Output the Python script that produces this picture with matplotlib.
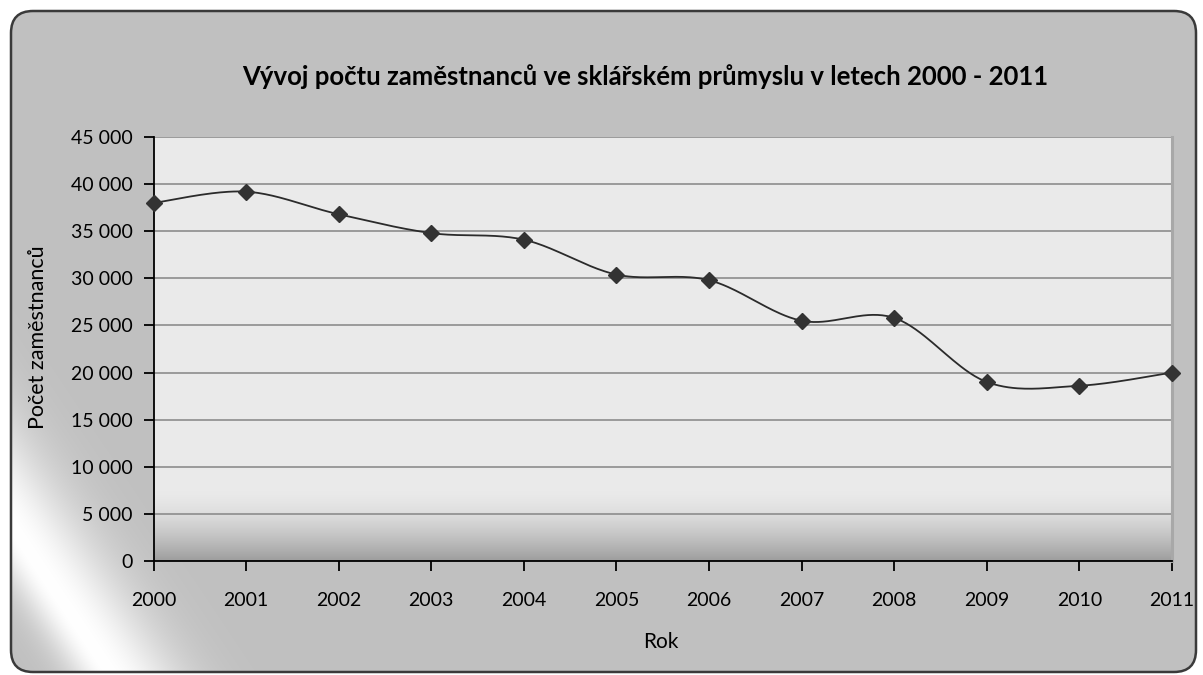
import numpy as np
import matplotlib
matplotlib.use("Agg")
import matplotlib.pyplot as plt
from matplotlib.patches import FancyBboxPatch

plt.rcParams['font.family'] = ['Lato', 'DejaVu Sans']

# data
years = [2000, 2001, 2002, 2003, 2004, 2005, 2006, 2007, 2008, 2009, 2010, 2011]
employees = [38000, 39200, 36800, 34800, 34100, 30400, 29800, 25500, 25800, 19000, 18600, 20000]
y_ticks = [0, 5000, 10000, 15000, 20000, 25000, 30000, 35000, 40000, 45000]
y_tick_labels = [f"{v:,}".replace(",", " ") for v in y_ticks]

title = "Vývoj počtu zaměstnanců ve sklářském průmyslu v letech 2000 - 2011"
x_label = "Rok"
y_label = "Počet zaměstnanců"


def smooth(xs, ys, n=40):
    # excel-like smoothed line (bezier through the points)
    p = np.column_stack([xs, ys]).astype(float)
    pe = np.vstack([p[0], p, p[-1]])
    t = np.linspace(0, 1, n)[:, None]
    out = []
    for i in range(len(p) - 1):
        p0, p1, p2, p3 = pe[i], pe[i + 1], pe[i + 2], pe[i + 3]
        c1 = p1 + (p2 - p0) / 6
        c2 = p2 - (p3 - p1) / 6
        seg = (1 - t) ** 3 * p1 + 3 * (1 - t) ** 2 * t * c1 + 3 * (1 - t) * t ** 2 * c2 + t ** 3 * p2
        out.append(seg if i == 0 else seg[1:])
    return np.vstack(out)


W, H = 1203, 675
fig = plt.figure(figsize=(W / 100, H / 100), dpi=100)
fig.patch.set_facecolor("white")

# chart area background with the silver sheen
bg = fig.add_axes([0, 0, 1, 1], zorder=0)
yy, xx = np.mgrid[0:H, 0:W]
d = (130 * xx - 87 * yy) / 156.4 + 284
sig = np.where(d < 0, 32, 60)
sheen = np.exp(-(d / sig) ** 2)
base = 0.753
img = base + (1 - base) * sheen
im = bg.imshow(np.dstack([img] * 3), extent=(0, W, H, 0), aspect="auto", interpolation="bilinear")
frame = FancyBboxPatch((11, 11), 1185, 661, boxstyle="round,pad=0,rounding_size=22",
                       fc="none", ec="#3a3a3a", lw=1.8)
bg.add_patch(frame)
im.set_clip_path(frame)
bg.set_xlim(0, W)
bg.set_ylim(H, 0)
bg.axis("off")

# plot area
ax = fig.add_axes([153.5 / W, 114 / H, (1172 - 153.5) / W, (561 - 137) / H], zorder=1)
ax.set_xlim(2000, 2011)
ax.set_ylim(0, 45000)

v = np.linspace(45000, 0, 400)
s = np.clip((7500 - v) / 7500, 0, 1)
shade = 0.918 - 0.30 * s ** 1.6
ax.imshow(np.dstack([np.tile(shade[:, None], (1, 2))] * 3), extent=(2000, 2011, 0, 45000),
          aspect="auto", zorder=0, interpolation="bilinear")

ax.set_yticks(y_ticks)
ax.set_yticklabels(y_tick_labels)
ax.set_xticks(years)
ax.set_xticklabels([str(y) for y in years])
ax.yaxis.grid(True, color="#858585", lw=1.1, zorder=1)
ax.set_axisbelow(True)

curve = smooth(years, employees)
ax.plot(curve[:, 0], curve[:, 1], color="#2b2b2b", lw=1.3, zorder=3, clip_on=False)
ax.plot(years, employees, ls="none", marker="D", ms=8, color="#333333", zorder=4, clip_on=False)

ax.spines["top"].set_visible(False)
ax.spines["right"].set_color("#a8a8a8")
ax.spines["right"].set_linewidth(2.2)
ax.spines["left"].set_linewidth(1.3)
ax.spines["bottom"].set_linewidth(1.3)
ax.tick_params(direction="out", length=7, width=1.3, labelsize=14, colors="black")
ax.tick_params(axis="y", pad=8)
ax.tick_params(axis="x", pad=15)

fig.text(645 / W, 1 - 77 / H, title, ha="center", va="center", fontsize=18.5, fontweight="bold")
fig.text(38 / W, 1 - 337 / H, y_label, ha="center", va="center", rotation=90, fontsize=15.5)
fig.text(661 / W, 1 - 642 / H, x_label, ha="center", va="center", fontsize=15)

fig.savefig("out.png", dpi=100)
